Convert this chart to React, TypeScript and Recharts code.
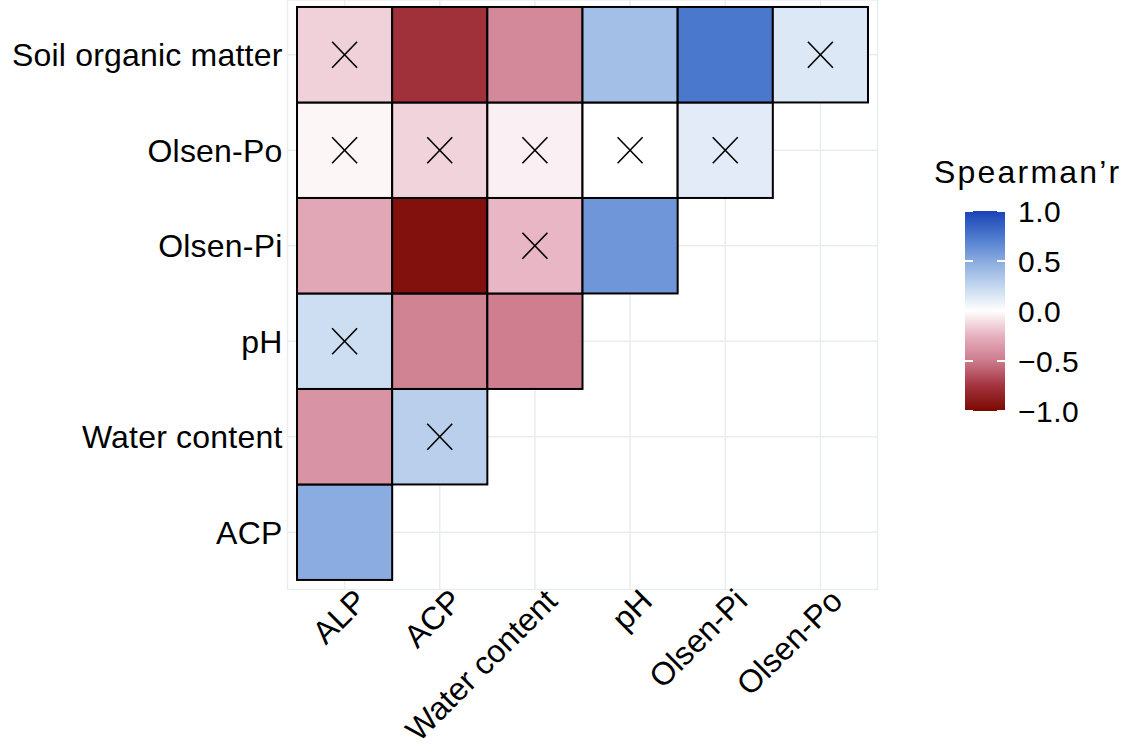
import { ScatterChart, Scatter, XAxis, YAxis, CartesianGrid } from 'recharts'

const xLabels = ['ALP', 'ACP', 'Water content', 'pH', 'Olsen-Pi', 'Olsen-Po']
// y rows, bottom to top
const yLabels = ['ACP', 'Water content', 'pH', 'Olsen-Pi', 'Olsen-Po', 'Soil organic matter']

// Spearman r per row (same order as yLabels), one value per x column
const rhoACP = [0.49]
const rhoWater = [-0.38, 0.29]
const rhoPH = [0.21, -0.46, -0.48]
const rhoOlsenPi = [-0.29, -0.95, -0.23, 0.6]
const rhoOlsenPo = [-0.03, -0.14, -0.05, 0.0, 0.12]
const rhoSOM = [-0.15, -0.77, -0.43, 0.38, 0.75, 0.14]

// non-significant cells (drawn with a cross)
const nsACP = [false]
const nsWater = [false, true]
const nsPH = [true, false, false]
const nsOlsenPi = [false, false, true, false]
const nsOlsenPo = [true, true, true, true, true]
const nsSOM = [true, false, false, false, false, true]

const legendTicks = [1, 0.5, 0, -0.5, -1]

const rhoRows = [rhoACP, rhoWater, rhoPH, rhoOlsenPi, rhoOlsenPo, rhoSOM]
const nsRows = [nsACP, nsWater, nsPH, nsOlsenPi, nsOlsenPo, nsSOM]

const data = rhoRows.flatMap((row, yi) =>
  row.map((r, xi) => ({ x: xi, y: yi, r, ns: nsRows[yi][xi] })),
)

const W = 1132
const H = 749
const PLOT_LEFT = 287.5
const PLOT_RIGHT = 877.5
const PLOT_TOP = 0
const PLOT_BOTTOM = 589.5
const X_DOMAIN: [number, number] = [-0.6, 5.6]
const Y_DOMAIN: [number, number] = [-0.6, 5.573]
const UNIT_X = (PLOT_RIGHT - PLOT_LEFT) / (X_DOMAIN[1] - X_DOMAIN[0])
const UNIT_Y = (PLOT_BOTTOM - PLOT_TOP) / (Y_DOMAIN[1] - Y_DOMAIN[0])

const FONT = '"Liberation Sans", Arial, Helvetica, sans-serif'

// diverging fill scale: dark red - pink - white - light blue - blue
const palStops = [-1, -0.75, -0.5, -0.25, 0, 0.25, 0.5, 0.75, 1]
const palColors = ['#7a0800', '#a3333f', '#cc7a8b', '#e6b0bf', '#ffffff', '#c3d6ef', '#88aadf', '#4a78cd', '#1a42b5']

function hexToRgb(hex: string) {
  const n = parseInt(hex.slice(1), 16)
  return [(n >> 16) & 255, (n >> 8) & 255, n & 255]
}

function fillFor(r: number) {
  const v = Math.max(-1, Math.min(1, r))
  let i = 0
  while (i < palStops.length - 2 && v > palStops[i + 1]) i++
  const t = (v - palStops[i]) / (palStops[i + 1] - palStops[i])
  const a = hexToRgb(palColors[i])
  const b = hexToRgb(palColors[i + 1])
  const c = a.map((ch, k) => Math.round(ch + (b[k] - ch) * t))
  return `rgb(${c[0]},${c[1]},${c[2]})`
}

function Tile(props: any) {
  const { cx, cy, payload } = props
  return (
    <g>
      <rect
        x={cx - UNIT_X / 2}
        y={cy - UNIT_Y / 2}
        width={UNIT_X}
        height={UNIT_Y}
        fill={fillFor(payload.r)}
        stroke="#000"
        strokeWidth={2}
      />
      {payload.ns && (
        <g stroke="#000" strokeWidth={1.6}>
          <line x1={cx - 12.5} y1={cy - 13} x2={cx + 12.5} y2={cy + 13} />
          <line x1={cx - 12.5} y1={cy + 13} x2={cx + 12.5} y2={cy - 13} />
        </g>
      )}
    </g>
  )
}

function YTick(props: any) {
  const { y, payload } = props
  return (
    <text
      x={PLOT_LEFT - 5}
      y={y}
      dy="0.36em"
      textAnchor="end"
      fontSize={32}
      letterSpacing={0.2}
      fontFamily={FONT}
      fill="#000"
    >
      {yLabels[payload.value]}
    </text>
  )
}

function XTick(props: any) {
  const { x, payload } = props
  return (
    <text
      transform={`translate(${x + 24},${603}) rotate(-45)`}
      textAnchor="end"
      fontSize={32}
      fontFamily={FONT}
      fill="#000"
    >
      {xLabels[payload.value]}
    </text>
  )
}

function ColorBar() {
  const bx = 965
  const bw = 40
  const top = 211
  const bottom = 411
  const yOf = (v: number) => top + ((1 - v) / 2) * (bottom - top)
  const stops = Array.from({ length: 41 }, (_, i) => 1 - i / 20)
  return (
    <svg width={W} height={H} style={{ position: 'absolute', left: 0, top: 0, pointerEvents: 'none' }}>
      <defs>
        <linearGradient id="rhoGrad" x1="0" y1="0" x2="0" y2="1">
          {stops.map((v, i) => (
            <stop key={i} offset={`${(i / (stops.length - 1)) * 100}%`} stopColor={fillFor(v)} />
          ))}
        </linearGradient>
      </defs>
      <text x={934} y={183} fontSize={32} letterSpacing={2.2} fontFamily={FONT} fill="#000">
        Spearman’r
      </text>
      <rect x={bx} y={top} width={bw} height={bottom - top} fill="url(#rhoGrad)" />
      {legendTicks.map((v) => (
        <g key={v}>
          <line x1={bx} x2={bx + 8} y1={yOf(v)} y2={yOf(v)} stroke="#fff" strokeWidth={2} />
          <line x1={bx + bw - 8} x2={bx + bw} y1={yOf(v)} y2={yOf(v)} stroke="#fff" strokeWidth={2} />
          <text x={1018} y={yOf(v)} dy="0.36em" fontSize={30} letterSpacing={0.5} fontFamily={FONT} fill="#000">
            {v < 0 ? '\u2212' + Math.abs(v).toFixed(1) : v.toFixed(1)}
          </text>
        </g>
      ))}
    </svg>
  )
}

export default function App() {
  return (
    <div style={{ position: 'absolute', left: 0, top: 0, width: W, height: H, background: '#fff' }}>
      <ScatterChart
        width={W}
        height={H}
        margin={{ top: PLOT_TOP, right: W - PLOT_RIGHT, bottom: 9.5, left: 0 }}
      >
        <CartesianGrid stroke="#ebeded" strokeWidth={1.5} />
        <XAxis
          type="number"
          dataKey="x"
          domain={X_DOMAIN}
          ticks={[0, 1, 2, 3, 4, 5]}
          allowDataOverflow
          axisLine={false}
          tickLine={false}
          height={150}
          interval={0}
          tick={<XTick />}
        />
        <YAxis
          type="number"
          dataKey="y"
          domain={Y_DOMAIN}
          ticks={[0, 1, 2, 3, 4, 5]}
          allowDataOverflow
          axisLine={false}
          tickLine={false}
          width={PLOT_LEFT}
          interval={0}
          tick={<YTick />}
        />
        <Scatter data={data} shape={<Tile />} isAnimationActive={false} />
      </ScatterChart>
      <ColorBar />
    </div>
  )
}
